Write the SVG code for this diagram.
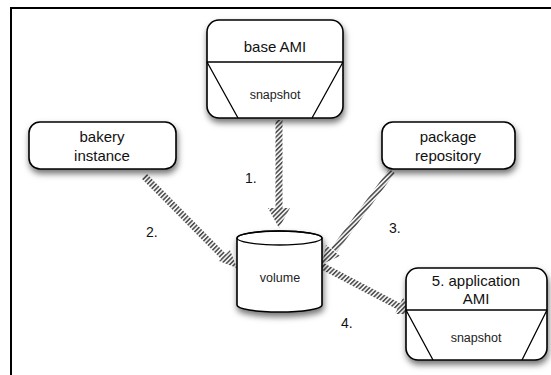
<svg xmlns="http://www.w3.org/2000/svg" width="551" height="375" viewBox="0 0 551 375">
<style>
.box{fill:#fff;stroke:#000;stroke-width:1.6}
.ln{fill:none;stroke:#000;stroke-width:1.3}
.t{font-family:"Liberation Sans",Arial,sans-serif;font-size:15px;fill:#111;text-anchor:middle}
.s{font-family:"Liberation Sans",Arial,sans-serif;font-size:12.5px;fill:#222;text-anchor:middle}
.lab{font-family:"Liberation Sans",Arial,sans-serif;font-size:14px;fill:#111}
.sh{stroke:url(#hatch);stroke-width:7;fill:none}
.hd{fill:url(#hatch)}
</style>
<defs>
<pattern id="hatch" patternUnits="userSpaceOnUse" width="3.2" height="3.2" patternTransform="rotate(45)">
<rect width="3.2" height="3.2" fill="#f2f2f2"/>
<rect width="1.5" height="3.2" fill="#4a4a4a"/>
</pattern>
<filter id="shadow" x="-20%" y="-20%" width="140%" height="150%">
<feDropShadow dx="1" dy="4" stdDeviation="3" flood-color="#000" flood-opacity="0.55"/>
</filter>
</defs>
<rect width="551" height="375" fill="#fff"/>
<path d="M11,375 V8 H551" fill="none" stroke="#000" stroke-width="2"/>

<g id="connectors">
<g id="c1"><path class="sh" d="M279,120 V210"/><polygon class="hd" points="268,208 290,208 279,228"/></g>
<g id="c2"><path class="sh" d="M144,176 L226,259"/><polygon class="hd" points="219,261 230,250 237,268"/></g>
<g id="c3"><path class="sh" d="M392,171 L334,250"/><polygon class="hd" points="326,245 340,256 322,264"/></g>
<g id="c4"><path class="sh" d="M322,266 L400,307"/><polygon class="hd" points="395,314 403,298 413,314"/></g>
</g>
<text class="lab" x="245" y="183">1.</text>
<text class="lab" x="146" y="237">2.</text>
<text class="lab" x="389" y="233">3.</text>
<text class="lab" x="341" y="328">4.</text>

<g id="base-ami">
<rect class="box" x="207" y="20" width="136" height="98" rx="12" filter="url(#shadow)"/>
<path class="ln" d="M207,62 H343 M207,62 L238,118 M343,62 L312,118"/>
<text class="t" x="275" y="52">base AMI</text>
<text class="s" x="275" y="99">snapshot</text>
</g>

<g id="bakery-instance">
<rect class="box" x="29" y="122" width="147" height="47" rx="11" filter="url(#shadow)"/>
<text class="t" x="102" y="142">bakery</text>
<text class="t" x="102" y="161">instance</text>
</g>

<g id="package-repository">
<rect class="box" x="382" y="122" width="133" height="47" rx="11" filter="url(#shadow)"/>
<text class="t" x="448" y="142">package</text>
<text class="t" x="448" y="161">repository</text>
</g>

<g id="volume">
<path class="box" d="M237,238 V305 A42.5,7 0 0 0 322,305 V238 A42.5,7 0 0 0 237,238 Z" filter="url(#shadow)"/>
<ellipse class="ln" cx="279.5" cy="238" rx="42.5" ry="7"/>
<text class="s" x="280" y="282">volume</text>
</g>

<g id="application-ami">
<rect class="box" x="406" y="268" width="141" height="92" rx="12" filter="url(#shadow)"/>
<path class="ln" d="M406,310 H547 M406,310 L433,360 M547,310 L522,360"/>
<text class="t" x="476" y="286">5. application</text>
<text class="t" x="476" y="304">AMI</text>
<text class="s" x="476" y="342">snapshot</text>
</g>
</svg>
